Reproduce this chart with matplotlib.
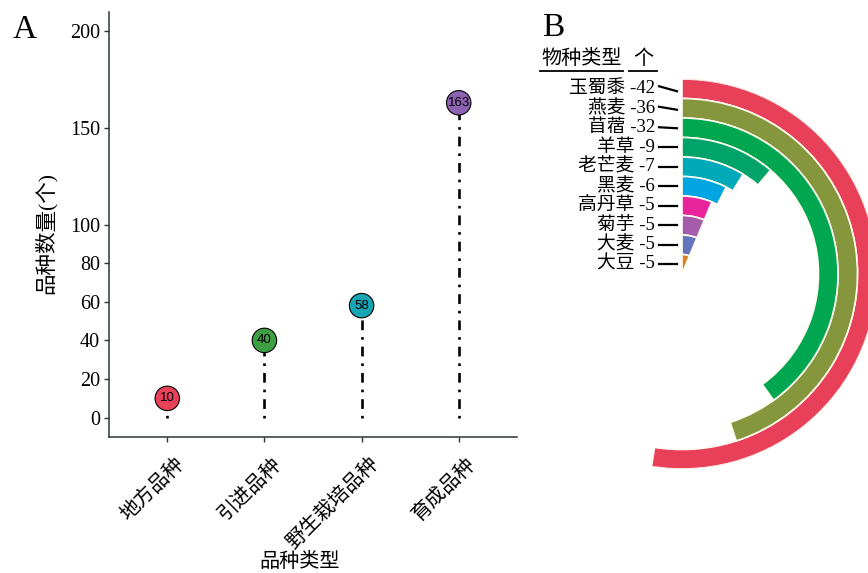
import numpy as np
import matplotlib
matplotlib.use('Agg')
import matplotlib.pyplot as plt
import matplotlib.transforms as mtransforms
from matplotlib.lines import Line2D

plt.rcParams['lines.scale_dashes'] = False

# ---------------- Panel A data ----------------
types = ['地方品种', '引进品种', '野生栽培品种', '育成品种']
counts = [10, 40, 58, 163]
type_colors = ['#E8415A', '#3DA043', '#17A5B3', '#8E62B2']
yticks = [0, 20, 40, 60, 80, 100, 150, 200]

# ---------------- Panel B data ----------------
species = ['玉蜀黍', '燕麦', '苜蓿', '羊草', '老芒麦', '黑麦', '高丹草', '菊芋', '大麦', '大豆']
species_n = [42, 36, 32, 9, 7, 6, 5, 5, 5, 5]
species_colors = ['#E9405A', '#86963D', '#00A650', '#00A46A', '#00A9B7',
                  '#00A5E1', '#E8239B', '#A35DAA', '#6275BE', '#D8812B']
full_circle = 80

W, H = 868, 573
fig = plt.figure(figsize=(W / 100, H / 100), dpi=100)

SER = ['Liberation Serif', 'Noto Sans CJK SC']
CJK = ['Noto Sans CJK SC', 'DejaVu Sans']


def px(l, t, w, h):
    return [l / W, 1 - (t + h) / H, w / W, h / H]


# ================= Panel A =================
axA = fig.add_axes(px(109, 12, 408, 425))
x = np.arange(1, len(types) + 1)
for xi, v in zip(x, counts):
    axA.plot([xi, xi], [0, v], color='black', lw=1.9,
             dashes=(1.9, 5.0, 7.0, 5.0), dash_capstyle='butt', zorder=2)
axA.scatter(x, counts, s=310, c=type_colors, edgecolors='black',
            linewidths=0.8, zorder=3)
for xi, v in zip(x, counts):
    axA.text(xi, v, str(v), ha='center', va='center', fontsize=9.5,
             family=['Liberation Sans', 'DejaVu Sans'], zorder=4)

axA.set_xlim(0.4, 4.6)
axA.set_ylim(-10, 210)
axA.set_yticks(yticks)
axA.set_yticklabels([str(t) for t in yticks], family=SER, fontsize=14.5)
axA.set_xticks(x)
axA.set_xticklabels([])
lab_tr = axA.get_xaxis_transform() + mtransforms.ScaledTranslation(
    6 / 100, -16 / 100, fig.dpi_scale_trans)
for xi, t in zip(x, types):
    axA.text(xi, 0, t, transform=lab_tr, family=CJK, fontsize=14.5,
             rotation=45, ha='right', va='top', rotation_mode='anchor',
             clip_on=False)
for s in ['top', 'right']:
    axA.spines[s].set_visible(False)
for s in ['left', 'bottom']:
    axA.spines[s].set_color('#2B3539')
    axA.spines[s].set_linewidth(1.1)
axA.tick_params(axis='both', length=3.5, width=1.0, color='#2B3539')
axA.tick_params(axis='y', pad=3)

fig.text(45 / W, 1 - 233 / H, '品种数量(个)', rotation=90, ha='center',
         va='center', family=SER, fontsize=15.5)
fig.text(300 / W, 1 - 551 / H, '品种类型', ha='center', va='top',
         family=CJK, fontsize=14.5)
fig.text(25 / W, 1 - 30 / H, 'A', ha='center', va='center',
         family=['Liberation Serif'], fontsize=24)

# ================= Panel B =================
cx, cy, R = 682, 274, 195
axB = fig.add_axes(px(cx - R, cy - R, 2 * R, 2 * R), projection='polar')
axB.set_theta_zero_location('N')
axB.set_theta_direction(-1)
n = len(species)
bottoms = np.arange(n)[::-1]
widths = np.array(species_n) / full_circle * 2 * np.pi
axB.bar(np.zeros(n), np.ones(n), width=widths, bottom=bottoms, align='edge',
        color=species_colors, edgecolor='#FFFDF0', linewidth=1.2)
axB.set_ylim(0, n)
axB.set_axis_off()

tilt = [5, 3, 1, 0, 0, 0, 0, 0, 0, 0]
for i, (name, cnt) in enumerate(zip(species, species_n)):
    r = bottoms[i] + 0.5
    pxy = axB.transData.transform((0, r))
    fig.text((pxy[0] - 27) / W, pxy[1] / H, f'{name} -{cnt}', ha='right',
             va='center', family=SER, fontsize=13.5)
    fig.add_artist(Line2D([pxy[0] - 23, pxy[0] - 5],
                          [pxy[1] + tilt[i] / 2, pxy[1] - tilt[i] / 2],
                          color='black', lw=1.6,
                          transform=mtransforms.IdentityTransform()))

fig.text(622 / W, 1 - 58 / H, '物种类型', ha='right', va='center',
         family=CJK, fontsize=14.5)
fig.text(643 / W, 1 - 58 / H, '个', ha='center', va='center',
         family=CJK, fontsize=14.5)
fig.add_artist(Line2D([540 / W, 623 / W], [1 - 71 / H, 1 - 71 / H],
                      color='black', lw=1.3))
fig.add_artist(Line2D([629 / W, 657 / W], [1 - 71 / H, 1 - 71 / H],
                      color='black', lw=1.3))
fig.text(553 / W, 1 - 28 / H, 'B', ha='center', va='center',
         family=['Liberation Serif'], fontsize=24)

fig.savefig('out.png', dpi=100)
